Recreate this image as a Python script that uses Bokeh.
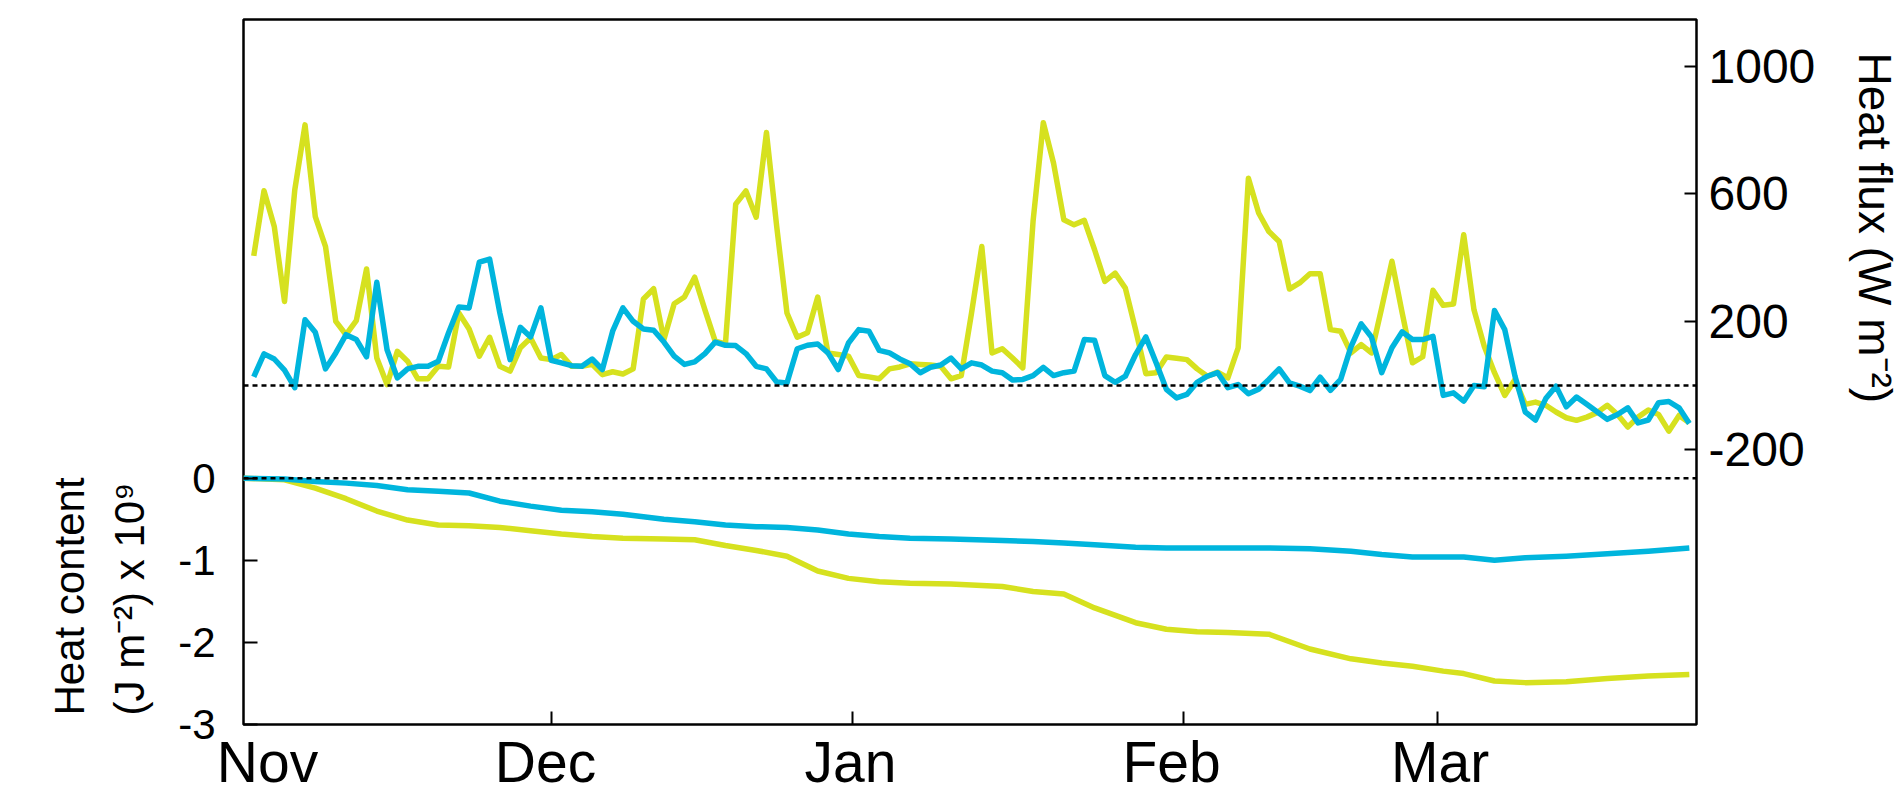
import math
from bokeh.plotting import figure
from bokeh.models import Range1d, LinearAxis, FixedTicker, Span, Label
from bokeh.embed import file_html
from bokeh.resources import INLINE

FONT = "Liberation Sans"
YELLOW = "#d6e11f"
BLUE = "#00b5dd"

# ---------------- data ----------------
months = ["Nov", "Dec", "Jan", "Feb", "Mar"]
month_label_pos = [1.34, 28.45, 58.2, 89.5, 115.7]   # centre of each month name (step index)
month_tick_pos = [29.0, 58.36, 90.7, 115.4]          # tick marks (Dec, Jan, Feb, Mar)

flux_yellow = [406, 610, 498, 263, 612, 816, 529, 435, 201, 159,
               203, 365, 86, 3, 107, 76, 21, 21, 60, 58,
               227, 177, 92, 151, 60, 45, 118, 149, 86,
               81, 97, 60, 60, 66, 34, 43, 36, 52, 271,
               303, 144, 256, 277, 339, 237, 139, 130, 568, 609,
               527, 792, 498, 227, 151, 165, 277, 102,
               97, 92, 31, 27, 21, 52, 58, 68, 66, 64,
               60, 21, 31, 227, 435, 102, 115, 86, 55, 514,
               823, 696, 519, 503, 517, 425, 326, 352,
               305, 175, 37, 40, 89, 85, 81, 52, 29, 42,
               24, 118, 649, 540, 482, 451, 302, 321, 350, 350,
               175, 170, 102, 128, 102, 243, 389, 227,
               71, 90, 298, 251, 255, 472, 237, 123, 40, -31,
               19, -59, -52, -62, -83, -101, -109, -99, -85, -62,
               -91, -130, -99, -77, -91, -143, -94, -117]

flux_blue = [27, 99, 83, 48, -7, 206, 167, 52, 102, 159,
             144, 90, 323, 112, 24, 52, 60, 60, 76, 165,
             246, 243, 386, 396, 227, 81, 182, 152, 243,
             79, 71, 62, 60, 83, 50, 170, 243, 201, 177,
             173, 136, 92, 66, 74, 100, 136, 126, 125, 100,
             60, 52, 11, 8, 115, 126, 130, 102,
             50, 133, 175, 170, 110, 102, 83, 68, 40, 57,
             64, 86, 52, 71, 64, 45, 40, 17, 19, 31,
             57, 31, 40, 45, 144, 142, 31, 10,
             29, 97, 152, 71, -12, -39, -28, 10, 29, 40,
             -7, 3, -26, -12, 19, 52, 8, -2, -16, 26,
             -15, 19, 121, 193, 152, 40, 118, 168,
             144, 144, 154, -31, -23, -49, 0, -4, 235, 175,
             29, -83, -108, -41, -2, -67, -36, -59, -82, -106,
             -91, -70, -117, -108, -54, -50, -70, -119]

day = list(range(len(flux_yellow)))

heat_day = [-1, 3, 6, 9, 12, 15, 18, 21, 24, 27, 30, 33, 36, 40, 43, 46, 49, 52,
            55, 58, 61, 64, 68, 73, 76, 79, 82, 86, 89, 92, 95, 99, 103, 107,
            110, 113, 116, 118, 121, 124, 128, 132, 136, 140]
heat_yellow = [0, -0.02, -0.12, -0.25, -0.40, -0.51, -0.57, -0.58, -0.60, -0.64,
               -0.68, -0.71, -0.73, -0.74, -0.75, -0.82, -0.88, -0.95, -1.13, -1.22,
               -1.26, -1.28, -1.29, -1.32, -1.38, -1.41, -1.58, -1.76, -1.84, -1.87,
               -1.88, -1.90, -2.08, -2.20, -2.25, -2.29, -2.35, -2.38, -2.47, -2.49,
               -2.48, -2.44, -2.41, -2.39]
heat_blue = [0, -0.01, -0.04, -0.06, -0.09, -0.14, -0.16, -0.18, -0.28, -0.34,
             -0.39, -0.41, -0.44, -0.50, -0.53, -0.57, -0.59, -0.60, -0.63, -0.68,
             -0.71, -0.73, -0.74, -0.76, -0.77, -0.79, -0.81, -0.84, -0.85, -0.85,
             -0.85, -0.85, -0.86, -0.89, -0.93, -0.96, -0.96, -0.96, -1.00, -0.97,
             -0.95, -0.92, -0.89, -0.85]

heat_ticks = [0, -1, -2, -3]
flux_ticks = [1000, 600, 200, -200]

heat_title = ["Heat content", "(J m\u207b\u00b2) x 10\u2079"]
flux_title = "Heat flux (W m\u207b\u00b2)"

# ---------------- geometry ----------------
W, H = 1903, 796
L, R, T, B = 243, 1696, 19, 726          # frame edges in canvas pixels
X0, X1 = -1.0, 140.7
H0, H1 = -3.0, 5.587
F0, F1 = -1061.5, 1146.0


def xd(px):
    return X0 + (px - L) / (R - L) * (X1 - X0)


def hd(py):
    return H0 + (B - py) / (B - T) * (H1 - H0)


def fd(py):
    return F0 + (B - py) / (B - T) * (F1 - F0)


p = figure(width=W, height=H, x_range=Range1d(X0, X1), y_range=Range1d(H0, H1),
           output_backend="svg", toolbar_location=None, title=None,
           min_border_left=L, min_border_right=W - R, min_border_top=T,
           min_border_bottom=H - B)
p.extra_y_ranges = {"flux": Range1d(F0, F1)}
p.xgrid.visible = False
p.ygrid.visible = False
p.outline_line_color = "black"
p.outline_line_width = 2.5
p.background_fill_color = "white"
p.border_fill_color = "white"


def style_ticks(ax, tick_in):
    ax.major_tick_in = tick_in
    ax.major_tick_out = 0
    ax.minor_tick_line_color = None
    ax.axis_line_color = None
    ax.major_tick_line_width = 2
    ax.major_tick_line_color = "black"
    ax.major_label_text_font = FONT
    ax.major_label_text_color = "black"


# bottom axis: tick marks only
xa = p.xaxis[0]
xa.ticker = FixedTicker(ticks=month_tick_pos)
style_ticks(xa, 13)
xa.major_label_text_color = None

# bottom axis: month names
xl = LinearAxis(ticker=FixedTicker(ticks=month_label_pos))
style_ticks(xl, 0)
xl.major_tick_line_color = None
xl.major_label_overrides = {pos: m for pos, m in zip(month_label_pos, months)}
xl.major_label_text_font_size = "57px"
xl.major_label_standoff = 5
p.add_layout(xl, "below")

# left axis (heat content)
ya = p.yaxis[0]
ya.ticker = FixedTicker(ticks=heat_ticks)
style_ticks(ya, 14)
ya.major_label_overrides = {v: str(v) for v in heat_ticks}
ya.major_label_text_font_size = "42px"
ya.major_label_standoff = 28

# right axis (heat flux)
ra = LinearAxis(y_range_name="flux", ticker=FixedTicker(ticks=flux_ticks))
style_ticks(ra, 12)
ra.major_label_overrides = {v: str(v) for v in flux_ticks}
ra.major_label_text_font_size = "48px"
ra.major_label_standoff = 12
p.add_layout(ra, "right")

# axis titles (placed in the side panels so they are not clipped by the frame)
for txt, px in zip(heat_title, [69, 129]):
    p.add_layout(Label(x=xd(px), y=hd(717), text=txt, angle=math.pi / 2,
                       text_align="left", text_baseline="alphabetic",
                       text_font=FONT, text_font_size="42px", text_color="black"), "left")
p.add_layout(Label(x=xd(1874), y=fd(52), y_range_name="flux", text=flux_title,
                   angle=-math.pi / 2, text_align="left", text_baseline="alphabetic",
                   text_font=FONT, text_font_size="46px", text_color="black"), "right")

# zero reference lines
p.add_layout(Span(location=0, dimension="width", y_range_name="flux",
                  line_color="black", line_dash="5 4", line_width=2.5))
p.add_layout(Span(location=0, dimension="width",
                  line_color="black", line_dash="5 4", line_width=2.5))

# data lines
p.line(day, flux_yellow, y_range_name="flux", line_color=YELLOW, line_width=5.5, line_join="round")
p.line(day, flux_blue, y_range_name="flux", line_color=BLUE, line_width=5.5, line_join="round")
p.line(heat_day, heat_yellow, line_color=YELLOW, line_width=5.5, line_join="round")
p.line(heat_day, heat_blue, line_color=BLUE, line_width=5.5, line_join="round")

open("out.html", "w").write(file_html(p, INLINE))
